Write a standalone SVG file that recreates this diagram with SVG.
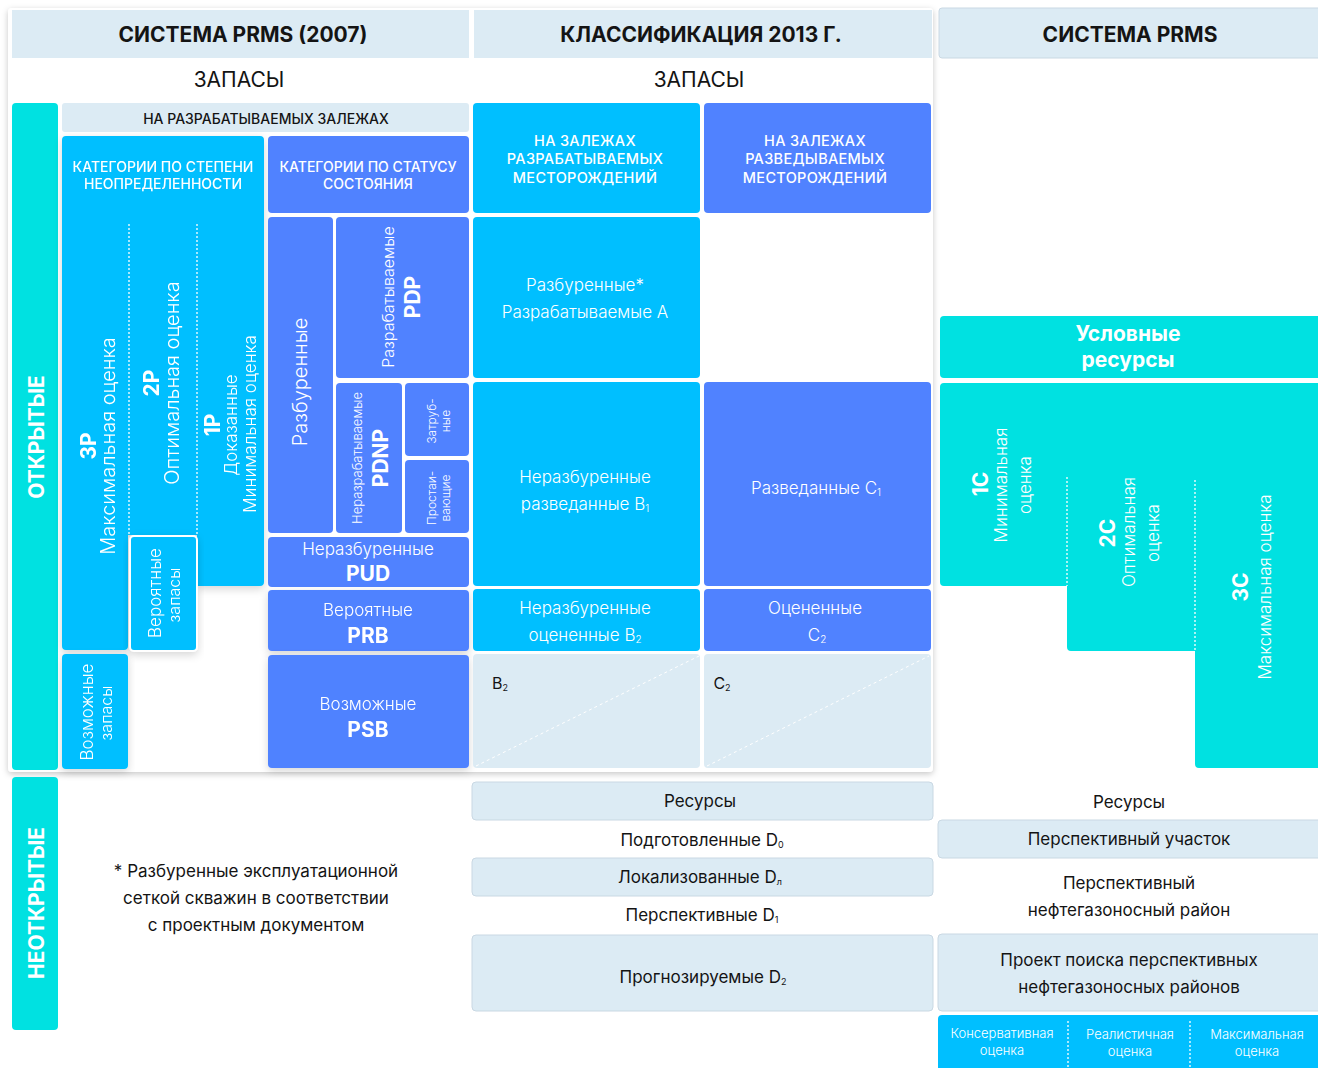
<svg xmlns="http://www.w3.org/2000/svg" width="1318" height="1068" viewBox="0 0 1318 1068">
<defs>
  <filter id="cardShadow" x="-5%" y="-5%" width="110%" height="110%">
    <feDropShadow dx="0" dy="2" stdDeviation="3" flood-color="#000" flood-opacity="0.22"/>
  </filter>
  <filter id="boxShadow" x="-10%" y="-10%" width="120%" height="120%">
    <feDropShadow dx="0" dy="3" stdDeviation="4" flood-color="#000" flood-opacity="0.16"/>
  </filter>
</defs>
<style>
  text{font-family:Inter,"Noto Sans","DejaVu Sans",sans-serif;dominant-baseline:central;text-anchor:middle}
  .dk{fill:#141414}
  .wt{fill:#ffffff}
  .h1{font-size:21px;font-weight:700}
  .h2{font-size:21px;font-weight:400}
  .cap{font-size:14px;font-weight:500}
  .cap2{font-size:14.5px;font-weight:500;letter-spacing:0.3px}
  .lb{font-size:17px;font-weight:400}
  .lbs{font-size:16px;font-weight:400}
  .big{font-size:20px;font-weight:400}
  .code{font-size:21px;font-weight:700}
  .sm{font-size:13px;font-weight:400}
  .xs{font-size:12px;font-weight:400}
  .wt.lb,.wt.lbs,.wt.big,.wt.sm,.wt.xs{font-weight:300}
  .side{font-size:21px;font-weight:700}
  .light{fill:#dcebf4}
  .cyan{fill:#00bfff}
  .blue{fill:#5082ff}
  .teal{fill:#00e1e1}
  .sep{stroke:#fff;stroke-width:2}
  .dot{stroke:#fff;stroke-width:1.3;stroke-dasharray:2 2;fill:none}
  .dash{stroke:#fff;stroke-width:1;stroke-dasharray:3 3;fill:none}
  .edge{stroke:#c9d8e3;stroke-width:1}
</style>

<!-- white card holding the reserves part of both systems -->
<rect x="8" y="8" width="925" height="764" rx="4" fill="#fff" filter="url(#cardShadow)"/>

<!-- column headers -->
<g id="hdr-prms2007">
  <rect x="12" y="10" width="457" height="48" class="light"/>
  <text x="243" y="34" class="h1 dk">СИСТЕМА PRMS (2007)</text>
  <text x="239" y="79" class="h2 dk">ЗАПАСЫ</text>
</g>
<g id="hdr-2013">
  <rect x="474" y="10" width="458" height="48" class="light"/>
  <text x="701" y="34" class="h1 dk">КЛАССИФИКАЦИЯ 2013 Г.</text>
  <text x="699" y="79" class="h2 dk">ЗАПАСЫ</text>
</g>
<g id="hdr-prms">
  <rect x="939" y="8" width="385" height="50" rx="3" class="light edge"/>
  <text x="1130" y="34" class="h1 dk">СИСТЕМА PRMS</text>
</g>

<!-- discovered / undiscovered side bars -->
<g id="open">
  <rect x="12" y="103" width="46" height="667" rx="4" class="teal"/>
  <text transform="translate(36 437) rotate(-90)" class="side wt">ОТКРЫТЫЕ</text>
</g>
<g id="closed">
  <rect x="12" y="777" width="46" height="253" rx="4" class="teal"/>
  <text transform="translate(36 903) rotate(-90)" class="side wt">НЕОТКРЫТЫЕ</text>
</g>

<!-- PRMS 2007: developed reservoirs -->
<g id="developed-head">
  <rect x="62" y="103" width="407" height="29" rx="3" class="light"/>
  <text x="266" y="118" class="cap dk">НА РАЗРАБАТЫВАЕМЫХ ЗАЛЕЖАХ</text>
</g>

<g id="uncertainty" filter="url(#boxShadow)">
  <path d="M66,136 H260 Q264,136 264,140 V582 Q264,586 260,586 H197 V535 H128 V646 Q128,650 124,650 H66 Q62,650 62,646 V140 Q62,136 66,136 Z" class="cyan"/>
  <text x="163" y="166" class="cap wt">КАТЕГОРИИ ПО СТЕПЕНИ</text>
  <text x="163" y="183" class="cap wt">НЕОПРЕДЕЛЕННОСТИ</text>
  <line x1="129" y1="224" x2="129" y2="535" class="dot"/>
  <line x1="197" y1="224" x2="197" y2="535" class="dot"/>
  <text transform="translate(88 446) rotate(-90)" class="code wt">3P</text>
  <text transform="translate(108 446) rotate(-90)" class="big wt">Максимальная оценка</text>
  <text transform="translate(151 383) rotate(-90)" class="code wt">2P</text>
  <text transform="translate(172 383) rotate(-90)" class="big wt">Оптимальная оценка</text>
  <text transform="translate(212 425) rotate(-90)" class="code wt">1P</text>
  <text transform="translate(231 425) rotate(-90)" class="lb wt">Доказанные</text>
  <text transform="translate(250 424) rotate(-90)" class="lb wt">Минимальная оценка</text>
</g>
<g id="probable-res" filter="url(#boxShadow)">
  <rect x="130" y="536" width="67" height="115" rx="4" class="cyan sep"/>
  <text transform="translate(155 593) rotate(-90)" class="lb wt">Вероятные</text>
  <text transform="translate(174 595) rotate(-90)" class="lbs wt">запасы</text>
</g>
<g id="possible-res" filter="url(#boxShadow)">
  <rect x="62" y="654" width="66" height="115" rx="4" class="cyan"/>
  <text transform="translate(87 712) rotate(-90)" class="lb wt">Возможные</text>
  <text transform="translate(106 713) rotate(-90)" class="lbs wt">запасы</text>
</g>

<!-- status categories -->
<g id="status-head">
  <rect x="268" y="136" width="201" height="77" rx="4" class="blue"/>
  <text x="368" y="166" class="cap wt">КАТЕГОРИИ ПО СТАТУСУ</text>
  <text x="368" y="183" class="cap wt">СОСТОЯНИЯ</text>
</g>
<g id="drilled">
  <rect x="268" y="217" width="65" height="316" rx="4" class="blue"/>
  <text transform="translate(300 382) rotate(-90)" class="big wt">Разбуренные</text>
</g>
<g id="pdp">
  <rect x="336" y="217" width="133" height="161" rx="4" class="blue"/>
  <text transform="translate(388 297) rotate(-90)" class="lbs wt">Разрабатываемые</text>
  <text transform="translate(412 297) rotate(-90)" class="code wt">PDP</text>
</g>
<g id="pdnp">
  <rect x="336" y="383" width="66" height="150" rx="4" class="blue"/>
  <text transform="translate(357 458) rotate(-90)" class="sm wt">Неразрабатываемые</text>
  <text transform="translate(380 458) rotate(-90)" class="code wt">PDNP</text>
</g>
<g id="behind-pipe">
  <rect x="405" y="383" width="64" height="73" rx="4" class="blue"/>
  <text transform="translate(431 421) rotate(-90)" class="xs wt">Затруб-</text>
  <text transform="translate(445 421) rotate(-90)" class="xs wt">ные</text>
</g>
<g id="shut-in">
  <rect x="405" y="460" width="64" height="73" rx="4" class="blue"/>
  <text transform="translate(431 498) rotate(-90)" class="xs wt">Простаи-</text>
  <text transform="translate(445 498) rotate(-90)" class="xs wt">вающие</text>
</g>
<g id="pud">
  <rect x="268" y="537" width="201" height="50" rx="4" class="blue"/>
  <text x="368" y="549" class="lb wt">Неразбуренные</text>
  <text x="368" y="573" class="code wt">PUD</text>
</g>
<g id="prb" filter="url(#boxShadow)">
  <rect x="268" y="590" width="201" height="61" rx="4" class="blue"/>
  <text x="368" y="610" class="lb wt">Вероятные</text>
  <text x="368" y="635" class="code wt">PRB</text>
</g>
<g id="psb" filter="url(#boxShadow)">
  <rect x="268" y="655" width="201" height="113" rx="4" class="blue"/>
  <text x="368" y="704" class="lb wt">Возможные</text>
  <text x="368" y="729" class="code wt">PSB</text>
</g>

<!-- Classification 2013 -->
<g id="dev-fields">
  <rect x="473" y="103" width="227" height="110" rx="4" class="cyan"/>
  <text x="585" y="140" class="cap2 wt">НА ЗАЛЕЖАХ</text>
  <text x="585" y="158" class="cap2 wt">РАЗРАБАТЫВАЕМЫХ</text>
  <text x="585" y="177" class="cap2 wt">МЕСТОРОЖДЕНИЙ</text>
</g>
<g id="expl-fields">
  <rect x="704" y="103" width="227" height="110" rx="4" class="blue"/>
  <text x="815" y="140" class="cap2 wt">НА ЗАЛЕЖАХ</text>
  <text x="815" y="158" class="cap2 wt">РАЗВЕДЫВАЕМЫХ</text>
  <text x="815" y="177" class="cap2 wt">МЕСТОРОЖДЕНИЙ</text>
</g>
<g id="cat-a">
  <rect x="473" y="217" width="227" height="161" rx="4" class="cyan"/>
  <text x="585" y="285" class="lb wt">Разбуренные*</text>
  <text x="585" y="312" class="lb wt">Разрабатываемые А</text>
</g>
<g id="cat-b1">
  <rect x="473" y="382" width="227" height="204" rx="4" class="cyan"/>
  <text x="585" y="477" class="lb wt">Неразбуренные</text>
  <text x="585" y="504" class="lb wt">разведанные B<tspan font-size="10" dy="4">1</tspan></text>
</g>
<g id="cat-c1">
  <rect x="704" y="382" width="227" height="204" rx="4" class="blue"/>
  <text x="816" y="488" class="lb wt">Разведанные C<tspan font-size="10" dy="4">1</tspan></text>
</g>
<g id="cat-b2">
  <rect x="473" y="589" width="227" height="62" rx="4" class="cyan"/>
  <text x="585" y="608" class="lb wt">Неразбуренные</text>
  <text x="585" y="635" class="lb wt">оцененные B<tspan font-size="10" dy="4">2</tspan></text>
</g>
<g id="cat-c2">
  <rect x="704" y="589" width="227" height="62" rx="4" class="blue"/>
  <text x="815" y="608" class="lb wt">Оцененные</text>
  <text x="817" y="635" class="lb wt">C<tspan font-size="10" dy="4">2</tspan></text>
</g>
<g id="b2-exploring">
  <rect x="473" y="654" width="227" height="114" rx="4" class="light"/>
  <line x1="476" y1="766" x2="699" y2="656" class="dash"/>
  <text x="500" y="683" class="lbs dk">B<tspan font-size="9" dy="4">2</tspan></text>
</g>
<g id="c2-exploring">
  <rect x="704" y="654" width="227" height="114" rx="4" class="light"/>
  <line x1="707" y1="766" x2="929" y2="656" class="dash"/>
  <text x="722" y="683" class="lbs dk">C<tspan font-size="9" dy="4">2</tspan></text>
</g>

<!-- PRMS: contingent resources -->
<g id="contingent">
  <rect x="940" y="316" width="384" height="62" rx="4" class="teal"/>
  <text x="1128" y="333" class="code wt">Условные</text>
  <text x="1128" y="359" class="code wt">ресурсы</text>
</g>
<g id="contingent-scale">
  <path d="M944,383 H1324 V768 H1199 Q1195,768 1195,764 V651 H1071 Q1067,651 1067,647 V586 H944 Q940,586 940,582 V387 Q940,383 944,383 Z" class="teal"/>
  <line x1="1067" y1="477" x2="1067" y2="586" class="dot"/>
  <line x1="1195" y1="480" x2="1195" y2="651" class="dot"/>
  <text transform="translate(980 484) rotate(-90)" class="code wt">1C</text>
  <text transform="translate(1001 485) rotate(-90)" class="lb wt">Минимальная</text>
  <text transform="translate(1025 485) rotate(-90)" class="lb wt">оценка</text>
  <text transform="translate(1107 533) rotate(-90)" class="code wt">2C</text>
  <text transform="translate(1129 532) rotate(-90)" class="lb wt">Оптимальная</text>
  <text transform="translate(1153 533) rotate(-90)" class="lb wt">оценка</text>
  <text transform="translate(1240 587) rotate(-90)" class="code wt">3C</text>
  <text transform="translate(1265 587) rotate(-90)" class="lb wt">Максимальная оценка</text>
</g>

<!-- footnote -->
<g id="note">
  <text x="256" y="871" class="lb dk">* Разбуренные эксплуатационной</text>
  <text x="256" y="898" class="lb dk">сеткой скважин в соответствии</text>
  <text x="256" y="925" class="lb dk">с проектным документом</text>
</g>

<!-- Classification 2013: resources -->
<g id="res-2013">
  <rect x="472" y="782" width="461" height="38" rx="4" class="light edge"/>
  <text x="700" y="801" class="lb dk">Ресурсы</text>
</g>
<g id="d0">
  <text x="702" y="840" class="lb dk">Подготовленные D<tspan font-size="9" dy="4">0</tspan></text>
</g>
<g id="dl">
  <rect x="472" y="858" width="461" height="38" rx="4" class="light edge"/>
  <text x="700" y="877" class="lb dk">Локализованные D<tspan font-size="9" dy="4">л</tspan></text>
</g>
<g id="d1">
  <text x="702" y="915" class="lb dk">Перспективные D<tspan font-size="9" dy="4">1</tspan></text>
</g>
<g id="d2">
  <rect x="472" y="935" width="461" height="76" rx="4" class="light edge"/>
  <text x="703" y="977" class="lb dk">Прогнозируемые D<tspan font-size="9" dy="4">2</tspan></text>
</g>

<!-- PRMS: prospective resources -->
<g id="res-prms">
  <text x="1129" y="802" class="lb dk">Ресурсы</text>
</g>
<g id="prospect">
  <rect x="938" y="820" width="386" height="38" rx="4" class="light edge"/>
  <text x="1129" y="839" class="lb dk">Перспективный участок</text>
</g>
<g id="lead">
  <text x="1129" y="883" class="lb dk">Перспективный</text>
  <text x="1129" y="910" class="lb dk">нефтегазоносный район</text>
</g>
<g id="play">
  <rect x="938" y="934" width="386" height="77" rx="4" class="light edge"/>
  <text x="1129" y="960" class="lb dk">Проект поиска перспективных</text>
  <text x="1129" y="987" class="lb dk">нефтегазоносных районов</text>
</g>
<g id="prospect-scale">
  <rect x="938" y="1015" width="386" height="60" rx="4" class="cyan"/>
  <line x1="1068" y1="1021" x2="1068" y2="1068" class="dot"/>
  <line x1="1190" y1="1021" x2="1190" y2="1068" class="dot"/>
  <text x="1002" y="1033" class="sm wt">Консервативная</text>
  <text x="1002" y="1050" class="sm wt">оценка</text>
  <text x="1130" y="1034" class="sm wt">Реалистичная</text>
  <text x="1130" y="1051" class="sm wt">оценка</text>
  <text x="1257" y="1034" class="sm wt">Максимальная</text>
  <text x="1257" y="1051" class="sm wt">оценка</text>
</g>
</svg>
